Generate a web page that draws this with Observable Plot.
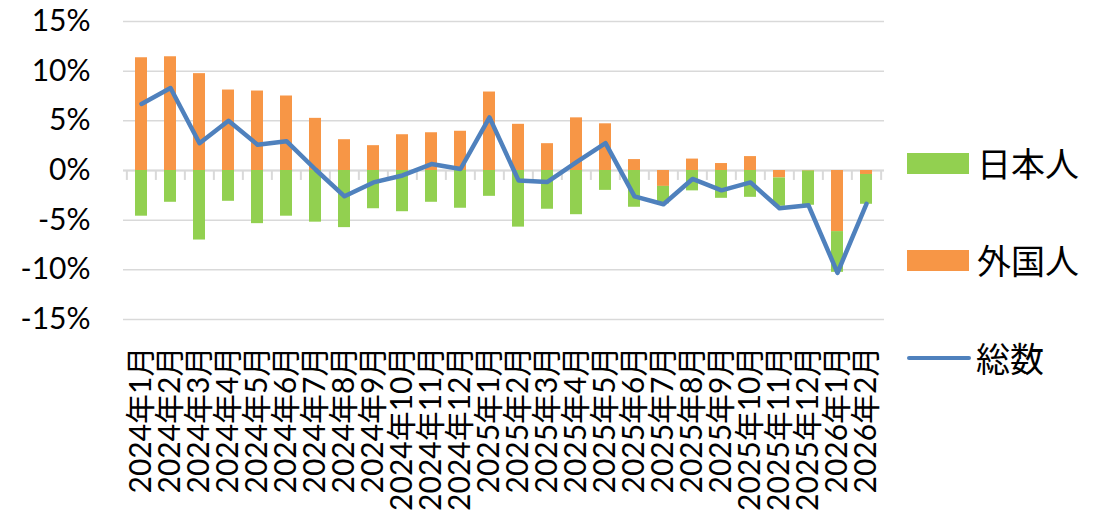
<!DOCTYPE html>
<html>
<head>
<meta charset="utf-8">
<script src="https://cdn.jsdelivr.net/npm/d3@7"></script>
<script src="https://cdn.jsdelivr.net/npm/@observablehq/plot@0.6"></script>
<style>
  html, body { margin: 0; padding: 0; background: #fff; }
  #wrap { position: relative; width: 1104px; height: 521px; font-family: Lato, "Noto Sans CJK JP", sans-serif; }
  #chart { position: absolute; left: 0; top: 0; }
  .leg { position: absolute; left: 907px; height: 40px; line-height: 40px; display: flex; align-items: center; font-family: "Noto Sans CJK JP", sans-serif; font-size: 34px; color: #000; white-space: nowrap; }
  .sw { width: 62px; height: 21px; margin-right: 8px; }
  .ln { width: 64px; height: 4.5px; border-radius: 2px; margin-right: 5px; }
</style>
</head>
<body>
<div id="wrap">
  <div id="chart"></div>
  <div class="leg" style="top:143px"><div class="sw" style="background:#92d050"></div>日本人</div>
  <div class="leg" style="top:240px"><div class="sw" style="background:#f79646"></div>外国人</div>
  <div class="leg" style="top:338px"><div class="ln" style="background:#4f81bd"></div>総数</div>
</div>
<script>
const months = ["2024年1月","2024年2月","2024年3月","2024年4月","2024年5月","2024年6月","2024年7月","2024年8月","2024年9月","2024年10月","2024年11月","2024年12月","2025年1月","2025年2月","2025年3月","2025年4月","2025年5月","2025年6月","2025年7月","2025年8月","2025年9月","2025年10月","2025年11月","2025年12月","2026年1月","2026年2月"];
const foreign = [11.35, 11.45, 9.75, 8.1, 8.0, 7.5, 5.25, 3.1, 2.5, 3.6, 3.8, 3.95, 7.9, 4.65, 2.7, 5.3, 4.7, 1.1, -1.6, 1.15, 0.7, 1.4, -0.75, -0.05, -6.15, -0.4];
const japanese = [-4.6, -3.2, -7.0, -3.1, -5.35, -4.6, -5.2, -5.75, -3.85, -4.15, -3.2, -3.8, -2.6, -5.7, -3.9, -4.45, -2.0, -3.7, -1.75, -2.05, -2.8, -2.7, -2.85, -3.45, -4.1, -3.0];
const total = [6.7, 8.3, 2.75, 5.0, 2.6, 2.95, 0.1, -2.6, -1.2, -0.5, 0.65, 0.15, 5.35, -1.0, -1.15, 0.85, 2.75, -2.6, -3.4, -0.85, -2.0, -1.2, -3.8, -3.5, -10.3, -3.35];
const yTicks = [-15, -10, -5, 0, 5, 10, 15];
const groups = ["外国人", "日本人"];
const colors = ["#f79646", "#92d050"];

const rows = months.flatMap((m, i) => [
  {month: m, group: groups[0], value: foreign[i]},
  {month: m, group: groups[1], value: japanese[i]}
]);
const lineRows = months.map((m, i) => ({month: m, value: total[i]}));

const W = 895, H = 521, mL = 123, mR = 11;
const step = (W - mL - mR) / months.length;

const chart = Plot.plot({
  width: W,
  height: H,
  marginLeft: mL,
  marginRight: mR,
  marginTop: 21,
  marginBottom: 202,
  style: {fontFamily: 'Lato, "Noto Sans CJK JP", sans-serif', fontSize: "30px", color: "#000", background: "transparent"},
  x: {domain: months, paddingInner: 0.59, paddingOuter: 0.295, label: null},
  y: {domain: [-15, 15], label: null},
  color: {domain: groups, range: colors},
  marks: [
    Plot.gridY(yTicks, {stroke: "#d9d9d9", strokeOpacity: 1, strokeWidth: 1.5}),
    Plot.ruleY([0], {stroke: "#d9d9d9", strokeWidth: 2}),
    Plot.ruleX(months, {x: d => d, dx: -step / 2, y1: 0, y2: -1, stroke: "#d9d9d9", strokeWidth: 2}),
    Plot.ruleX([months[months.length - 1]], {x: d => d, dx: step / 2, y1: 0, y2: -1, stroke: "#d9d9d9", strokeWidth: 2}),
    Plot.barY(rows, {x: "month", y: "value", fill: "group"}),
    Plot.lineY(lineRows, {x: "month", y: "value", stroke: "#4f81bd", strokeWidth: 4.5, strokeLinejoin: "round", strokeLinecap: "round"}),
    Plot.axisY(yTicks, {tickFormat: d => d + "%", tickSize: 0, tickPadding: 33, label: null}),
    Plot.axisX({tickRotate: -90, tickSize: 0, tickPadding: 27, label: null})
  ]
});
document.getElementById("chart").appendChild(chart);
</script>
</body>
</html>
